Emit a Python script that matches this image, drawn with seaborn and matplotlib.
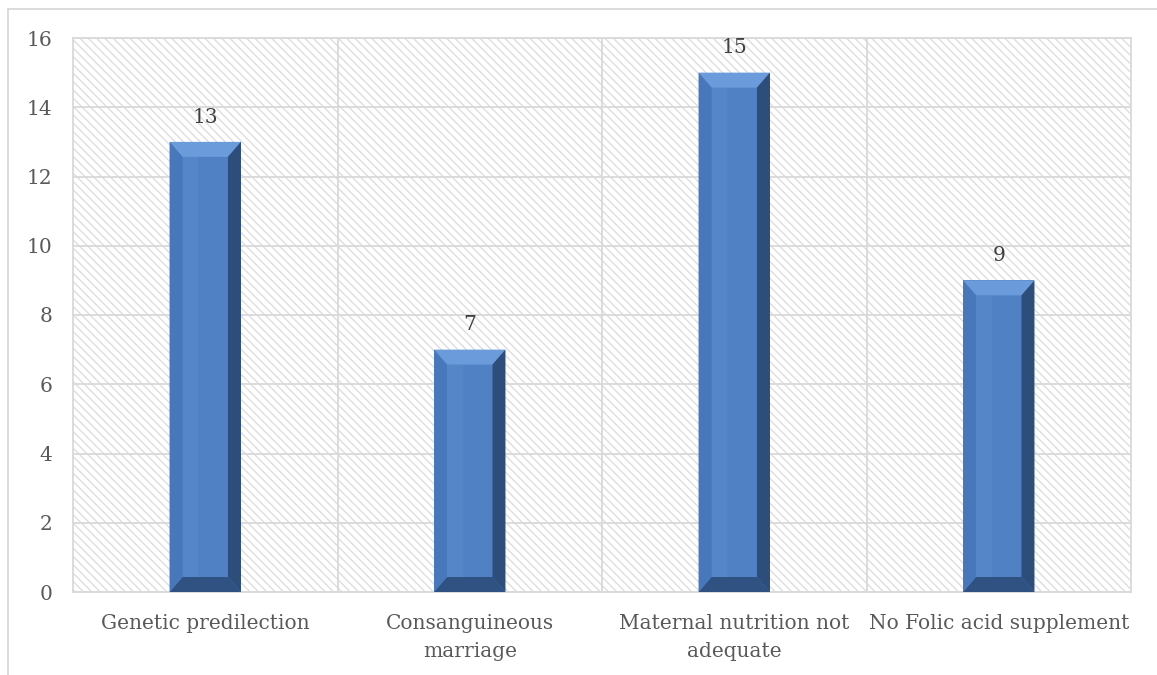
import matplotlib
matplotlib.use("Agg")
import matplotlib.pyplot as plt
from matplotlib.patches import Rectangle, Polygon
from matplotlib.lines import Line2D
import seaborn as sns
import pandas as pd

# Data
categories = ["Genetic predilection", "Consanguineous\nmarriage",
              "Maternal nutrition not\nadequate", "No Folic acid supplement"]
counts = [13, 7, 15, 9]
y_ticks = [0, 2, 4, 6, 8, 10, 12, 14, 16]

sns.set_theme(style="white")
plt.rcParams["font.family"] = ["DejaVu Serif"]
plt.rcParams["hatch.color"] = "#dedede"
plt.rcParams["hatch.linewidth"] = 1.0

W, H = 1157, 675
fig = plt.figure(figsize=(W / 100, H / 100), dpi=100)
ax = fig.add_axes([73 / W, 1 - 592 / H, (1131 - 73) / W, (592 - 38) / H])

df = pd.DataFrame({"cause": categories, "count": counts})
BAR_W = 0.27
FACE = "#4f81c4"
sns.barplot(data=df, x="cause", y="count", color=FACE, width=BAR_W,
            saturation=1, ax=ax, zorder=3, edgecolor="none")
bars = list(ax.patches)

ax.set_xlim(-0.5, len(categories) - 0.5)
ax.set_ylim(0, 16)
ax.set_yticks(y_ticks)
ax.set_xlabel("")
ax.set_ylabel("")

# hatched plot-area background
bg = Rectangle((0, 0), 1, 1, transform=ax.transAxes, facecolor="white",
               edgecolor="#dedede", hatch="\\\\\\\\", linewidth=0, zorder=0)
ax.add_patch(bg)

# gridlines: horizontal at ticks, vertical at category boundaries
ax.set_xticks([0.5, 1.5, 2.5], minor=True)
ax.grid(axis="y", which="major", color="#d9d9d9", linewidth=1.3, zorder=1)
ax.grid(axis="x", which="minor", color="#d9d9d9", linewidth=1.3, zorder=1)
ax.grid(axis="x", which="major", visible=False)
ax.set_axisbelow(True)
for sp in ax.spines.values():
    sp.set_color("#d9d9d9")
    sp.set_linewidth(1.3)

ax.tick_params(axis="both", which="both", length=0, colors="#595959",
               labelsize=14.5)
ax.tick_params(axis="x", pad=16)
ax.tick_params(axis="y", pad=15)
for lab in ax.get_xticklabels():
    lab.set_linespacing(1.6)

# bevelled bar faces
fig.canvas.draw()
inv = ax.transData.inverted()
def px_to_data(dx, dy):
    p0 = inv.transform((0, 0))
    p1 = inv.transform((dx, dy))
    return p1[0] - p0[0], p1[1] - p0[1]

bx, by = px_to_data(13, 15)
for p in bars:
    x0 = p.get_x()
    x1 = x0 + p.get_width()
    y0 = 0
    y1 = p.get_height()
    ix0, ix1 = x0 + bx, x1 - bx
    iy0, iy1 = y0 + by, y1 - by
    # top bevel
    ax.add_patch(Polygon([(x0, y1), (x1, y1), (ix1, iy1), (ix0, iy1)],
                         closed=True, facecolor="#6b9bda", edgecolor="none", zorder=4))
    # right bevel
    ax.add_patch(Polygon([(x1, y1), (x1, y0), (ix1, iy0), (ix1, iy1)],
                         closed=True, facecolor="#2d4e7a", edgecolor="none", zorder=4))
    # bottom bevel
    ax.add_patch(Polygon([(x0, y0), (x1, y0), (ix1, iy0), (ix0, iy0)],
                         closed=True, facecolor="#2f5283", edgecolor="none", zorder=4))
    # left bevel
    ax.add_patch(Polygon([(x0, y1), (x0, y0), (ix0, iy0), (ix0, iy1)],
                         closed=True, facecolor="#4678bb", edgecolor="none", zorder=4))
    # soft highlight along the inner face
    ax.add_patch(Rectangle((ix0, iy0), (ix1 - ix0) * 0.35, iy1 - iy0,
                           facecolor="#5a8ccd", edgecolor="none", alpha=0.5, zorder=4))

for c in ax.containers:
    ax.bar_label(c, labels=[str(v) for v in counts], padding=11,
                 fontsize=14.5, color="#404040", zorder=5)

# outer chart frame
fig.add_artist(Line2D([8 / W, 8 / W], [0, 1 - 9 / H], color="#d9d9d9", lw=1.3,
                      transform=fig.transFigure))
fig.add_artist(Line2D([8 / W, 1], [1 - 9 / H, 1 - 9 / H], color="#d9d9d9", lw=1.3,
                      transform=fig.transFigure))

fig.savefig("out.png", dpi=100, facecolor="white")
